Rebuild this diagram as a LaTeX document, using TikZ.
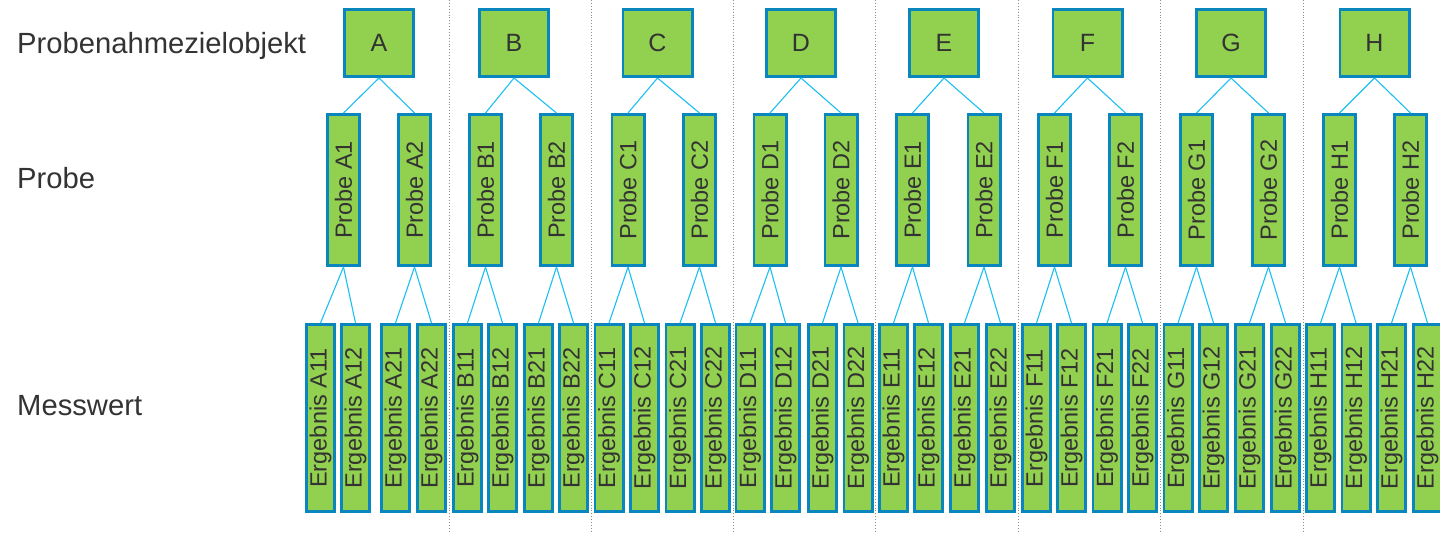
\documentclass[tikz,border=0pt]{standalone}
\usepackage{fontspec}
\setmainfont{Liberation Sans}
\definecolor{boxgreen}{HTML}{92D050}
\definecolor{boxblue}{HTML}{0A86BE}
\definecolor{linkblue}{HTML}{1CBFF2}
\definecolor{txt}{HTML}{333333}
\definecolor{sepgray}{HTML}{8C8C8C}
\tikzset{
  box/.style={draw=boxblue, fill=boxgreen, line width=2.7pt, inner sep=0pt, text=txt,
    font=\fontsize{23.5}{23.5}\selectfont},
  topbox/.style={box, minimum width=69.3pt, minimum height=67.3pt, font=\fontsize{25}{25}\selectfont},
  probebox/.style={box, minimum width=32.3pt, minimum height=151.3pt},
  resbox/.style={box, minimum width=28.3pt, minimum height=187.3pt},
  link/.style={draw=linkblue, line width=1.1pt},
  sepline/.style={draw=sepgray, line width=0.9pt, dotted},
  rowlabel/.style={anchor=base west, inner sep=0pt, text=txt, font=\fontsize{29.2}{29.2}\selectfont}
}
\begin{document}
\begin{tikzpicture}[x=1pt,y=-1pt]
\useasboundingbox[fill=white] (0,0) rectangle (1440,533);
% separators
\foreach \i/\x in {1/449,2/591,3/733,4/875.5,5/1018,6/1160,7/1303}{
  \coordinate (st\i) at (\x,0);
  \coordinate (sb\i) at (\x,533);
  \draw[sepline] (st\i) -- (sb\i);
}
% row labels
\node[rowlabel] (l1) at (17,53) {Probenahmezielobjekt};
\node[rowlabel] (l2) at (17,188) {Probe};
\node[rowlabel] (l3) at (17,415) {Messwert};
% top boxes
\foreach \n/\x in {A/379,B/514,C/657.5,D/801,E/944,F/1087.5,G/1231,H/1374.5}{
  \node[topbox] (\n) at (\x,43) {\n};
}
% probes
\foreach \n/\p/\x in {A/1/343.5,A/2/414.5,B/1/485.5,B/2/556.5,C/1/628,C/2/699.5,
  D/1/770,D/2/841,E/1/912.5,E/2/984,F/1/1054.5,F/2/1125.5,G/1/1196.5,G/2/1268.5,
  H/1/1339.5,H/2/1410.5}{
  \node[probebox] (\n\p) at (\x,190) {\rotatebox{90}{Probe \n\p}};
  \draw[link] (\n.south) -- (\n\p.north);
}
% results
\foreach \n/\p/\r/\x in {A/1/1/320.5,A/1/2/355.5,A/2/1/395.5,A/2/2/431.5,
  B/1/1/467.5,B/1/2/502.5,B/2/1/538.5,B/2/2/573.5,
  C/1/1/609,C/1/2/644.5,C/2/1/680,C/2/2/715.5,
  D/1/1/750,D/1/2/785.5,D/2/1/822.5,D/2/2/858,
  E/1/1/893.5,E/1/2/928.5,E/2/1/964.5,E/2/2/1000.5,
  F/1/1/1036.5,F/1/2/1071.5,F/2/1/1107,F/2/2/1142.5,
  G/1/1/1178,G/1/2/1213.5,G/2/1/1249.5,G/2/2/1285.5,
  H/1/1/1320.5,H/1/2/1356,H/2/1/1391.5,H/2/2/1427.5}{
  \node[resbox] (\n\p\r) at (\x,418) {\rotatebox{90}{Ergebnis \n\p\r}};
  \draw[link] (\n\p.south) -- (\n\p\r.north);
}
\end{tikzpicture}
\end{document}
